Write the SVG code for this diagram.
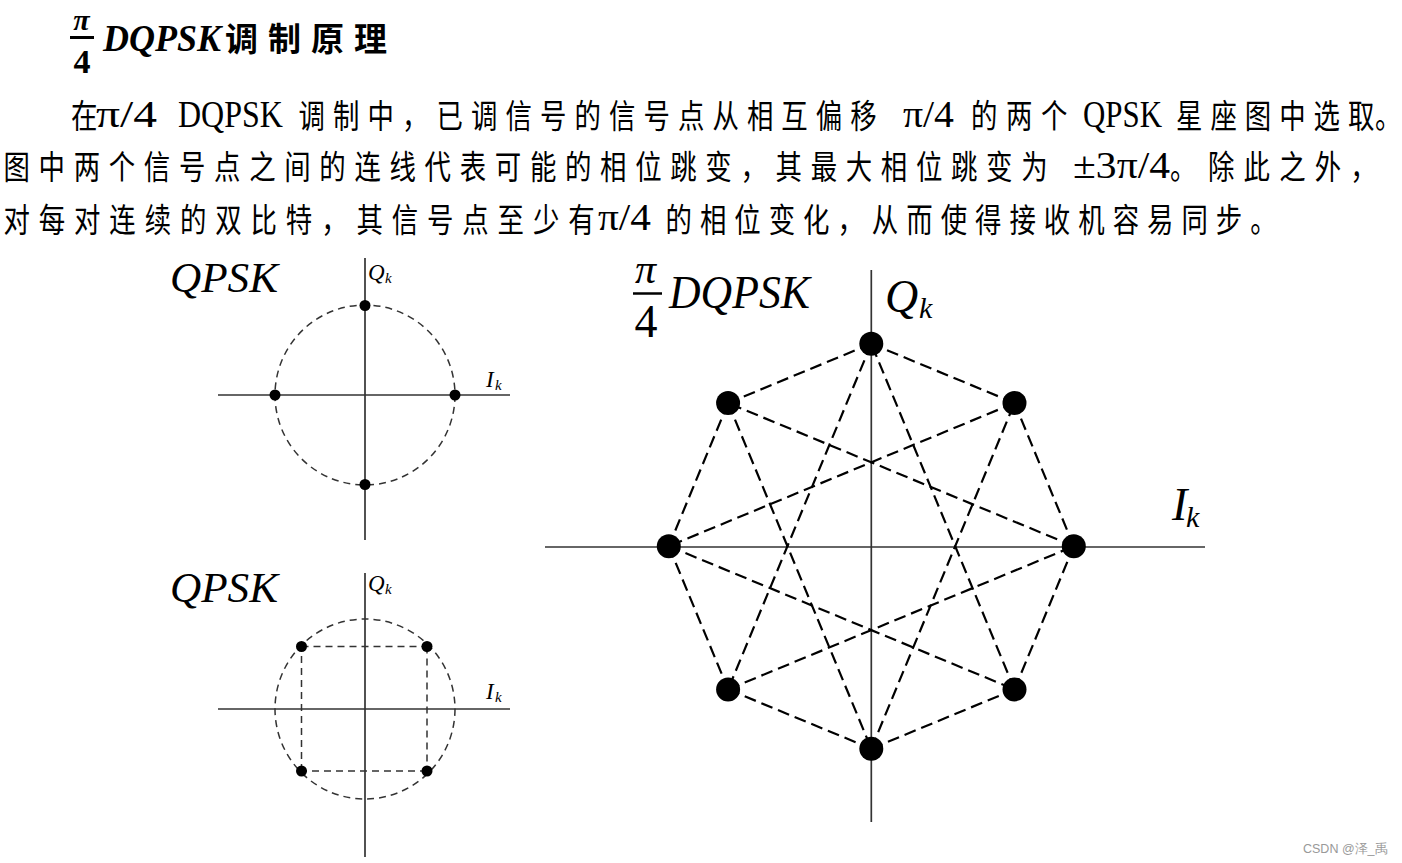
<svg xmlns="http://www.w3.org/2000/svg" width="1402" height="863" viewBox="0 0 1402 863">
<style>
.cjk{font-family:"Noto Sans CJK SC","Noto Sans CJK JP",sans-serif;font-size:33px;fill:#000}
.lat{font-family:"Liberation Serif",serif;font-size:37px;fill:#000}
.mi{font-family:"Liberation Serif",serif;font-style:italic;fill:#000}
.axis{stroke:#333;stroke-width:1.7;fill:none}
.dash{stroke:#000;stroke-width:2.2;stroke-dasharray:12 6;fill:none}
.sdash{stroke:#333;stroke-width:1.5;stroke-dasharray:7 5;fill:none}
.big{fill:#000}
.small{fill:#000}
</style>
<rect width="1402" height="863" fill="#fff"/>

<g id="title">
<text class="mi" x="81.5" y="30" font-size="30" font-weight="bold" text-anchor="middle">π</text>
<line x1="70" y1="37.5" x2="94" y2="37.5" stroke="#000" stroke-width="3"/>
<text x="82" y="73" font-family="Liberation Serif,serif" font-weight="bold" font-size="34" text-anchor="middle">4</text>
<text class="mi" x="103" y="51" font-size="37" font-weight="bold" textLength="118" lengthAdjust="spacingAndGlyphs">DQPSK</text>
<text class="cjk" x="225" y="51" font-size="32" font-weight="bold" letter-spacing="10">调制原理</text>
</g>

<g id="body">
<g transform="scale(0.8 1)">
<text class="cjk" x="88.75" y="128.5">在</text>
<text class="cjk" x="373.1" y="128.5" letter-spacing="10.125">调制中，已调信号的信号点从相互偏移</text>
<text class="cjk" x="1213.75" y="128.5" letter-spacing="10.75">的两个</text>
<text class="cjk" x="1470" y="128.5" letter-spacing="10">星座图中选</text>
<text class="cjk" x="1685" y="128.5">取</text>
<text class="cjk" x="1718.75" y="128.5">。</text>
<text class="cjk" x="4.375" y="179.5" letter-spacing="10.875">图中两个信号点之间的连线代表可能的相位跳变，其最大相位跳变为</text>
<text class="cjk" x="1462.5" y="179.5">。</text>
<text class="cjk" x="1510" y="179.5" letter-spacing="11.5">除此之外，</text>
<text class="cjk" x="4.375" y="232" letter-spacing="11.125">对每对连续的双比特，其信号点至少</text>
<text class="cjk" x="710.4" y="232">有</text>
<text class="cjk" x="831.9" y="232" letter-spacing="10">的相位变化，从而使得接收机容易同步。</text>
</g>
<text class="lat" x="96" y="127" textLength="61" lengthAdjust="spacingAndGlyphs">π/4</text>
<text class="lat" x="178" y="127" textLength="105" lengthAdjust="spacingAndGlyphs">DQPSK</text>
<text class="lat" x="903" y="127" textLength="51" lengthAdjust="spacingAndGlyphs">π/4</text>
<text class="lat" x="1083" y="127" textLength="79" lengthAdjust="spacingAndGlyphs">QPSK</text>
<text class="lat" x="1073" y="178" textLength="97" lengthAdjust="spacingAndGlyphs">±3π/4</text>
<text class="lat" x="598" y="230" textLength="53" lengthAdjust="spacingAndGlyphs">π/4</text>
</g>

<!-- top QPSK -->
<g id="qpsk1-axes">
<line class="axis" x1="365" y1="258" x2="365" y2="540"/>
<line class="axis" x1="218" y1="395" x2="510" y2="395"/>
<circle class="sdash" cx="365" cy="395" r="90"/>
<text class="mi" x="170" y="292" font-size="42" textLength="108" lengthAdjust="spacingAndGlyphs">QPSK</text>
<text class="mi" x="368" y="280" font-size="23">Q</text>
<text class="mi" x="385" y="283" font-size="15">k</text>
<text class="mi" x="486" y="387" font-size="23">I</text>
<text class="mi" x="495" y="390" font-size="15">k</text>
</g>
<g id="q1-p1"><circle class="small" cx="365" cy="305.5" r="5.5"/></g>
<g id="q1-p2"><circle class="small" cx="275" cy="395" r="5.5"/></g>
<g id="q1-p3"><circle class="small" cx="455" cy="395" r="5.5"/></g>
<g id="q1-p4"><circle class="small" cx="365" cy="484.5" r="5.5"/></g>

<!-- bottom QPSK -->
<g id="qpsk2-axes">
<line class="axis" x1="365" y1="573" x2="365" y2="857"/>
<line class="axis" x1="218" y1="709" x2="510" y2="709"/>
<circle class="sdash" cx="365" cy="709" r="90"/>
<text class="mi" x="170" y="602" font-size="42" textLength="108" lengthAdjust="spacingAndGlyphs">QPSK</text>
<text class="mi" x="368" y="591" font-size="23">Q</text>
<text class="mi" x="385" y="594" font-size="15">k</text>
<text class="mi" x="486" y="699" font-size="23">I</text>
<text class="mi" x="495" y="702" font-size="15">k</text>
</g>
<g id="q2-connectors">
<line class="sdash" x1="301.5" y1="646.5" x2="427" y2="646.5"/>
<line class="sdash" x1="427" y1="646.5" x2="427" y2="771"/>
<line class="sdash" x1="427" y1="771" x2="301.5" y2="771"/>
<line class="sdash" x1="301.5" y1="771" x2="301.5" y2="646.5"/>
</g>
<g id="q2-p1"><circle class="small" cx="301.5" cy="646.5" r="5.5"/></g>
<g id="q2-p2"><circle class="small" cx="427" cy="646.5" r="5.5"/></g>
<g id="q2-p3"><circle class="small" cx="301.5" cy="771" r="5.5"/></g>
<g id="q2-p4"><circle class="small" cx="427" cy="771" r="5.5"/></g>

<!-- pi/4 DQPSK -->
<g id="dqpsk-axes">
<line class="axis" x1="871.3" y1="270" x2="871.3" y2="822"/>
<line class="axis" x1="545" y1="547" x2="1205" y2="547"/>
<text class="mi" x="645.5" y="283" font-size="42" text-anchor="middle">π</text>
<line x1="633" y1="293.5" x2="662" y2="293.5" stroke="#000" stroke-width="2.5"/>
<text x="646" y="337" font-family="Liberation Serif,serif" font-size="46" text-anchor="middle">4</text>
<text class="mi" x="669" y="308" font-size="46" textLength="141" lengthAdjust="spacingAndGlyphs">DQPSK</text>
<text class="mi" x="885" y="312" font-size="46">Q</text>
<text class="mi" x="919" y="318" font-size="30">k</text>
<text class="mi" x="1172" y="520" font-size="46">I</text>
<text class="mi" x="1186" y="527" font-size="30">k</text>
</g>

<g id="connectors">
<line class="dash" x1="1073.8" y1="546.2" x2="1014.5" y2="403"/>
<line class="dash" x1="1014.5" y1="403" x2="871.3" y2="343.7"/>
<line class="dash" x1="871.3" y1="343.7" x2="728.1" y2="403"/>
<line class="dash" x1="728.1" y1="403" x2="668.8" y2="546.2"/>
<line class="dash" x1="668.8" y1="546.2" x2="728.1" y2="689.4"/>
<line class="dash" x1="728.1" y1="689.4" x2="871.3" y2="748.7"/>
<line class="dash" x1="871.3" y1="748.7" x2="1014.5" y2="689.4"/>
<line class="dash" x1="1014.5" y1="689.4" x2="1073.8" y2="546.2"/>
<line class="dash" x1="1073.8" y1="546.2" x2="728.1" y2="403"/>
<line class="dash" x1="1014.5" y1="403" x2="668.8" y2="546.2"/>
<line class="dash" x1="871.3" y1="343.7" x2="728.1" y2="689.4"/>
<line class="dash" x1="728.1" y1="403" x2="871.3" y2="748.7"/>
<line class="dash" x1="668.8" y1="546.2" x2="1014.5" y2="689.4"/>
<line class="dash" x1="728.1" y1="689.4" x2="1073.8" y2="546.2"/>
<line class="dash" x1="871.3" y1="748.7" x2="1014.5" y2="403"/>
<line class="dash" x1="1014.5" y1="689.4" x2="871.3" y2="343.7"/>
</g>

<g id="d-p0"><circle class="big" cx="1073.8" cy="546.2" r="12"/></g>
<g id="d-p1"><circle class="big" cx="1014.5" cy="403" r="12"/></g>
<g id="d-p2"><circle class="big" cx="871.3" cy="343.7" r="12"/></g>
<g id="d-p3"><circle class="big" cx="728.1" cy="403" r="12"/></g>
<g id="d-p4"><circle class="big" cx="668.8" cy="546.2" r="12"/></g>
<g id="d-p5"><circle class="big" cx="728.1" cy="689.4" r="12"/></g>
<g id="d-p6"><circle class="big" cx="871.3" cy="748.7" r="12"/></g>
<g id="d-p7"><circle class="big" cx="1014.5" cy="689.4" r="12"/></g>

<text x="1303" y="853" font-family="Liberation Sans,sans-serif" font-size="12.5" fill="#999">CSDN @泽_禹</text>
</svg>
